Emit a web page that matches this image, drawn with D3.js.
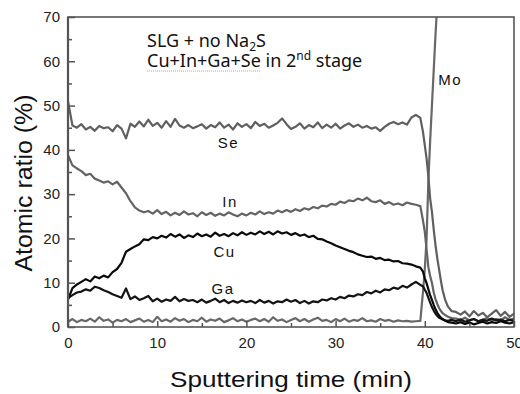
<!DOCTYPE html>
<html>
<head>
<meta charset="utf-8">
<script src="https://cdn.jsdelivr.net/npm/d3@7"></script>
<style>
  body { margin: 0; background: #fff; }
  svg { display: block; }
  .tick text { font-family: "Liberation Sans", Arial, sans-serif; font-size: 15px; fill: #222; }
  .domain { display: none; }
  .tick line { stroke: #555; stroke-width: 1.5; }
</style>
</head>
<body>
<svg id="chart" width="520" height="394"></svg>
<script>
// sampled profile, 0 - 39.5 min
const times = [0, 0.5, 1, 1.5, 2, 2.5, 3, 3.5, 4, 4.5, 5, 5.5, 6, 6.5, 7, 7.5, 8, 8.5, 9, 9.5,
  10, 10.5, 11, 11.5, 12, 12.5, 13, 13.5, 14, 14.5, 15, 15.5, 16, 16.5, 17, 17.5, 18, 18.5, 19, 19.5,
  20, 20.5, 21, 21.5, 22, 22.5, 23, 23.5, 24, 24.5, 25, 25.5, 26, 26.5, 27, 27.5, 28, 28.5, 29, 29.5,
  30, 30.5, 31, 31.5, 32, 32.5, 33, 33.5, 34, 34.5, 35, 35.5, 36, 36.5, 37, 37.5, 38, 38.5, 39, 39.5];

const seValues = [51, 45.5, 45, 45.8, 44.6, 45.2, 44.3, 45.4, 44.9, 45.1, 44.2, 45.6, 44.8, 42.6, 45.9, 45.2, 46.4, 45.3, 46.8, 45.4,
  46.1, 45.0, 46.5, 45.2, 47.0, 45.5, 45.0, 45.6, 44.9, 45.3, 45.8, 44.8, 45.6, 45.1, 46.2, 45.0, 45.7, 44.6, 46.0, 45.2,
  45.8, 44.9, 46.3, 45.4, 45.9, 45.0, 45.5, 46.1, 47.1, 45.8, 44.7, 45.2, 46.0, 44.8, 45.6, 45.1, 46.2, 44.9, 45.7, 45.0,
  45.9, 44.8, 45.5, 46.0, 45.2, 45.7, 45.0, 45.4, 44.8, 45.1, 44.3, 45.2, 45.9, 46.3, 45.8, 46.2, 45.7, 47.3, 47.9, 47.2];

const inValues = [38.8, 36.5, 35.8, 35.2, 34.3, 34.6, 33.5, 33.1, 32.6, 32.9, 32.2, 32.8, 31.5, 30.2, 28.4, 27.0, 26.3, 25.9, 26.2, 25.6,
  26.4, 25.5, 26.0, 25.2, 25.8, 25.3, 26.1, 25.4, 25.7, 25.0, 25.9, 25.3, 25.8, 25.1, 25.6, 25.2, 25.9, 25.4, 25.0, 25.6,
  25.2, 25.8, 25.4, 26.1, 25.5, 25.9, 25.6, 26.3, 25.9, 26.4, 26.0, 26.6, 26.2, 26.8, 26.5, 27.1, 26.8, 27.4, 27.2, 27.8,
  27.6, 28.3, 28.0, 28.6, 28.4, 29.0, 28.6, 29.2, 28.4, 28.2, 28.6, 27.8, 28.2, 27.6, 27.9, 27.5, 28.1, 27.8, 27.6, 27.3];

const cuValues = [6.2, 8.8, 9.6, 10.2, 10.8, 10.3, 11.4, 11.0, 11.6, 11.2, 12.4, 13.1, 14.5, 17.0, 17.6, 18.2, 18.7, 19.8, 19.6, 20.3,
  20.0, 20.6, 20.2, 21.0, 20.4, 20.9, 20.1, 20.7, 20.3, 21.1, 20.5, 20.9, 20.4, 21.3, 20.6, 21.0, 20.5, 21.2, 20.7, 21.4,
  20.8, 21.3, 20.9, 21.6, 21.0, 21.5, 20.9, 21.6, 21.1, 21.4, 20.8, 21.2, 20.6, 20.9, 20.3, 20.6, 19.9, 19.8, 19.3, 18.9,
  18.4, 18.0, 17.6, 17.2, 16.9, 16.4, 16.1, 15.8, 15.9, 15.4, 15.6, 15.1, 15.2, 14.8, 14.9, 14.4, 14.3, 14.1, 13.7, 13.4];

const gaValues = [6.5, 7.2, 7.8, 8.0, 8.5, 8.2, 9.1, 8.8, 8.3, 7.9, 7.4, 7.0, 6.6, 8.7, 6.3, 6.9, 6.1, 6.5, 7.0, 5.8,
  6.4, 5.7, 6.2, 5.9, 6.8, 5.8, 6.3, 5.9, 6.1, 5.6, 6.2, 5.5, 5.9, 6.4, 5.6, 6.1, 5.4, 5.9, 5.5, 6.0,
  5.6, 5.9, 5.4, 6.1, 5.5, 5.9, 5.3, 5.8, 5.6, 6.2, 5.7, 6.1, 5.4, 5.9, 5.3, 5.8, 5.6, 6.2, 6.0, 6.5,
  6.2, 6.8, 6.5, 7.1, 6.9, 7.4, 7.2, 7.9, 7.6, 8.2, 7.8, 8.5, 8.3, 8.9, 8.6, 9.3, 8.9, 9.6, 10.2, 9.5];

const moValues = [1.2, 1.8, 1.1, 1.6, 1.3, 1.9, 1.2, 2.2, 1.4, 1.7, 1.0, 1.6, 1.3, 1.8, 1.1, 1.5, 1.9, 1.2, 1.6, 1.1,
  2.3, 1.3, 1.7, 1.2, 2.0, 1.4, 1.8, 1.1, 1.6, 1.3, 2.1, 1.2, 1.7, 1.4, 1.9, 1.1, 1.5, 2.0, 1.3, 1.7,
  1.2, 1.6, 1.9, 1.3, 1.8, 1.2, 2.2, 1.4, 1.7, 1.1, 1.6, 2.0, 1.3, 1.8, 1.2, 1.7, 2.1, 1.4, 1.6, 1.1,
  1.8, 1.3, 1.9, 1.2, 1.6, 1.4, 2.0, 1.3, 1.5, 1.2, 1.8, 1.4, 1.6, 1.2, 1.5, 1.3, 1.4, 1.2, 1.3, 1.4];

// interface / back contact part, 39.8 - 50 min
const tailTimes = [39.8, 40.0, 40.2, 40.4, 40.6, 40.8, 41.0, 41.2, 41.4, 41.6, 41.8, 42.0, 42.3, 42.6, 43.0,
  43.5, 44.0, 44.5, 45, 45.5, 46, 46.5, 47, 47.5, 48, 48.5, 49, 49.5, 50];

const seTail = [44, 41, 38, 34, 29, 26, 22, 18.5, 15.5, 13, 10.5, 8.3, 6, 4.6, 3.6,
  3.4, 2.8, 3.5, 2.4, 3.6, 2.6, 3.2, 2.2, 3.0, 3.8, 2.5, 3.4, 2.3, 3.0];
const inTail = [24, 21.5, 17.5, 13.5, 11.5, 10, 7.8, 6.3, 5.2, 4.3, 3.6, 3.1, 2.7, 2.3, 2.0,
  1.9, 1.6, 2.1, 1.5, 1.8, 1.3, 1.7, 2.0, 1.4, 1.8, 1.5, 2.2, 1.6, 1.9];
const cuTail = [12.5, 11, 9.9, 8.5, 7.2, 6.1, 5, 4, 3.2, 2.6, 2.1, 1.8, 1.4, 1.1, 1.0,
  0.8, 1.1, 0.7, 1.0, 0.6, 0.9, 1.2, 0.8, 1.1, 0.9, 1.3, 1.0, 0.8, 1.1];
const gaTail = [9.2, 8.4, 7.7, 6.6, 5.5, 4.5, 3.7, 3.0, 2.5, 2.1, 1.9, 1.7, 1.5, 1.4, 1.6,
  1.3, 1.7, 1.2, 1.5, 1.8, 1.3, 1.6, 1.4, 1.9, 1.5, 1.7, 1.3, 1.6, 1.4];
const moTail = [8, 13, 20, 33, 42, 50, 58, 66, 73, 80, 85, 88, 90, 90, 90,
  90, 90, 90, 90, 90, 90, 90, 90, 90, 90, 90, 90, 90, 90];

const seriesList = [
  { name: "Mo", values: moValues, tail: moTail, color: "#686868" },
  { name: "Se", values: seValues, tail: seTail, color: "#5f5f5f" },
  { name: "In", values: inValues, tail: inTail, color: "#636363" },
  { name: "Ga", values: gaValues, tail: gaTail, color: "#141414" },
  { name: "Cu", values: cuValues, tail: cuTail, color: "#0a0a0a" },
];

const yTicks = [0, 10, 20, 30, 40, 50, 60, 70];
const yMinor = [5, 15, 25, 35, 45, 55, 65];
const xTicks = [0, 10, 20, 30, 40, 50];
const xMinor = [5, 15, 25, 35, 45];

const labels = [
  { text: "Se", t: 16.8, v: 40.5 },
  { text: "In", t: 17.3, v: 27 },
  { text: "Cu", t: 16.3, v: 15.8 },
  { text: "Ga", t: 16.1, v: 7.4 },
  { text: "Mo", t: 41.5, v: 54.6 },
];

const svg = d3.select("#chart");
const margin = { top: 17, right: 6, bottom: 67, left: 68 };
const width = 520 - margin.left - margin.right;
const height = 394 - margin.top - margin.bottom;

const x = d3.scaleLinear().domain([0, 50]).range([0, width]);
const y = d3.scaleLinear().domain([0, 70]).range([height, 0]);

const g = svg.append("g").attr("transform", `translate(${margin.left},${margin.top})`);

g.append("clipPath").attr("id", "clip")
  .append("rect").attr("width", width).attr("height", height);

const line = d3.line().x((d) => x(d.t)).y((d) => y(d.v));

const plot = g.append("g").attr("clip-path", "url(#clip)");
seriesList.forEach((s) => {
  const pts = times.map((t, i) => ({ t, v: s.values[i] }))
    .concat(tailTimes.map((t, i) => ({ t, v: s.tail[i] })));
  plot.append("path")
    .datum(pts)
    .attr("fill", "none")
    .attr("stroke", s.color)
    .attr("stroke-width", 2.2)
    .attr("stroke-linejoin", "round")
    .attr("d", line);
});

// axes with inward ticks
g.append("g")
  .call(d3.axisLeft(y).tickValues(yTicks).tickSizeInner(-7).tickSizeOuter(0).tickPadding(8));
g.append("g")
  .call(d3.axisLeft(y).tickValues(yMinor).tickSizeInner(-4).tickSizeOuter(0).tickFormat(""));
g.append("g")
  .attr("transform", `translate(0,${height})`)
  .call(d3.axisBottom(x).tickValues(xTicks).tickSizeInner(-6).tickSizeOuter(0).tickPadding(10));
g.append("g")
  .attr("transform", `translate(0,${height})`)
  .call(d3.axisBottom(x).tickValues(xMinor).tickSizeInner(-4).tickSizeOuter(0).tickFormat(""));

g.append("rect")
  .attr("width", width).attr("height", height)
  .attr("fill", "none").attr("stroke", "#555").attr("stroke-width", 1.6);
g.append("line")
  .attr("x1", 0).attr("x2", 0).attr("y1", 0).attr("y2", height)
  .attr("stroke", "#555").attr("stroke-width", 2.2);

// series labels
g.selectAll(".lbl")
  .data(labels)
  .join("text")
  .attr("class", "lbl")
  .attr("x", (d) => x(d.t))
  .attr("y", (d) => y(d.v))
  .attr("font-family", "'Liberation Sans', Arial, sans-serif")
  .attr("font-size", 15)
  .attr("letter-spacing", 1.5)
  .attr("fill", "#111")
  .text((d) => d.text);

// annotation
const note = g.append("text")
  .attr("x", 79).attr("y", 30)
  .attr("font-family", "'Noto Sans', 'Open Sans', sans-serif")
  .attr("font-size", 18)
  .attr("fill", "#111");
note.append("tspan").text("SLG + no Na");
note.append("tspan").attr("font-size", 12).attr("dy", 4).text("2");
note.append("tspan").attr("dy", -4).text("S");

const note2 = g.append("text")
  .attr("x", 79).attr("y", 50)
  .attr("font-family", "'Noto Sans', 'Open Sans', sans-serif")
  .attr("font-size", 18)
  .attr("fill", "#111");
const elems = note2.append("tspan").text("Cu+In+Ga+Se");
note2.append("tspan").text(" in 2");
note2.append("tspan").attr("font-size", 12).attr("dy", -7).text("nd");
note2.append("tspan").attr("dy", 7).text(" stage");

// dotted underline under the element list
const ulen = elems.node().getComputedTextLength();
g.append("line")
  .attr("x1", 79).attr("x2", 79 + ulen).attr("y1", 54).attr("y2", 54)
  .attr("stroke", "#aaa").attr("stroke-width", 1).attr("stroke-dasharray", "1,1");

// axis titles
svg.append("text")
  .attr("transform", "translate(32,183) rotate(-90)")
  .attr("text-anchor", "middle")
  .attr("font-family", "'Liberation Sans', Arial, sans-serif")
  .attr("font-size", 23)
  .attr("textLength", 177)
  .attr("lengthAdjust", "spacingAndGlyphs")
  .attr("fill", "#111")
  .text("Atomic ratio (%)");

svg.append("text")
  .attr("x", 291).attr("y", 387)
  .attr("text-anchor", "middle")
  .attr("font-family", "'Liberation Sans', Arial, sans-serif")
  .attr("font-size", 22)
  .attr("textLength", 242)
  .attr("lengthAdjust", "spacingAndGlyphs")
  .attr("fill", "#111")
  .text("Sputtering time (min)");
</script>
</body>
</html>
